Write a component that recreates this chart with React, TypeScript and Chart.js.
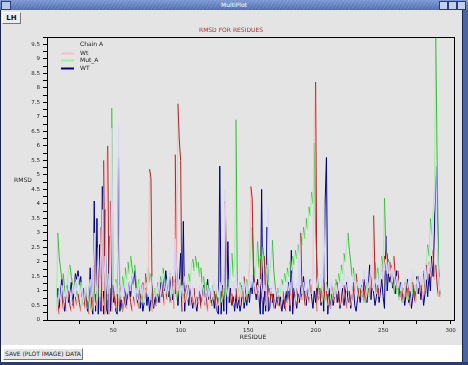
import React, { useEffect, useRef } from "react";
import { Chart, registerables } from "chart.js";

Chart.register(...registerables);

const FIRST_RESIDUE = 8;

const SERIES_NAMES = ["Chain A", "Wt", "Mut_A", "WT"];

const CHAIN_A = [
  0.8,0.5,1.0,0.7,1.2,0.9,0.6,1.1,0.8,1.4,1.0,0.7,1.2,0.9,1.3,
  1.0,1.5,1.1,0.8,1.3,0.6,0.9,1.2,0.7,1.0,1.4,0.8,1.1,3.0,0.9,
  1.2,2.5,0.8,1.5,3.8,1.0,2.2,1.3,0.9,1.6,1.1,6.6,1.4,1.0,1.3,
  0.9,6.7,1.1,0.7,1.2,0.8,1.0,1.4,0.9,1.3,1.0,1.6,1.2,0.8,1.1,
  0.7,1.0,1.4,0.9,1.2,0.6,1.0,1.3,0.8,1.1,0.7,1.5,1.0,0.8,1.2,
  0.9,1.3,0.8,1.1,1.6,1.2,0.9,1.4,1.0,1.7,1.3,0.9,1.2,2.8,1.5,
  1.0,1.4,0.8,1.2,0.9,1.5,1.1,0.7,1.0,1.3,0.8,1.2,0.6,0.9,1.1,
  0.8,1.2,0.9,1.3,1.0,0.6,0.9,1.2,0.8,1.1,0.7,1.0,1.4,0.9,1.2,
  0.8,1.3,1.0,1.5,1.1,4.5,1.2,0.8,1.1,1.4,0.9,1.3,1.0,1.6,1.1,
  0.8,1.2,0.9,1.3,1.0,1.4,0.9,1.2,1.6,1.1,1.5,1.0,1.3,0.9,1.2,
  1.0,1.4,1.1,0.8,1.2,1.0,1.5,3.9,1.2,0.9,1.3,1.0,0.7,1.1,0.8,
  1.0,1.3,0.9,1.2,0.8,1.1,1.4,1.0,1.3,0.9,1.6,1.2,0.9,1.3,1.0,
  3.1,1.2,0.9,1.3,1.0,1.5,1.1,0.8,1.2,1.6,1.3,1.9,1.4,1.1,1.5,
  1.2,1.6,1.0,4.0,1.3,1.2,0.9,1.3,1.0,1.4,1.1,0.8,1.2,0.9,1.3,
  1.0,1.4,1.1,1.7,1.3,1.0,1.5,1.2,0.9,1.3,1.6,1.2,0.9,1.3,1.1,
  1.4,1.0,1.3,1.7,1.2,1.5,1.1,1.4,1.8,1.3,1.0,1.4,1.2,1.6,1.1,
  1.5,1.9,1.4,1.8,2.1,1.6,2.0,1.5,1.8,1.3,1.7,1.2,1.5,1.1,1.4,
  1.0,1.3,0.9,1.2,1.5,1.1,1.4,1.0,1.3,1.7,1.2,1.0,1.4,1.1,1.6,
  1.2,1.5,1.1,1.8,1.4,2.0,1.6,2.3,2.8,3.4,4.0,5.5,3.0,1.5,1.0,
];

const WT_PINK = [
  0.3,0.7,0.2,0.5,0.9,0.4,0.8,0.3,0.6,1.0,0.5,0.3,0.7,0.4,0.8,
  0.5,0.9,0.6,0.3,0.7,1.1,0.4,0.8,0.5,0.2,0.6,1.0,0.4,2.3,0.7,
  0.5,1.8,0.4,3.2,0.3,5.5,0.2,5.4,6.0,0.2,4.1,0.3,1.2,0.7,0.4,
  0.9,0.5,1.1,0.6,0.3,0.8,0.5,0.4,0.7,1.0,0.6,0.3,0.8,0.5,1.1,
  0.7,0.4,0.9,0.6,1.3,0.8,1.6,1.0,1.4,5.2,4.9,0.3,0.7,1.0,0.5,
  0.8,1.1,0.6,1.3,0.9,0.5,1.0,0.7,1.2,0.8,0.6,1.5,0.4,5.7,1.0,
  7.45,6.2,5.5,0.3,1.3,0.6,1.0,0.7,1.2,0.5,0.9,0.6,1.1,0.4,0.8,
  0.6,1.0,0.4,0.7,1.1,0.5,0.8,0.3,0.6,0.9,0.5,0.7,1.0,0.4,0.8,
  0.5,0.9,1.3,0.7,1.0,4.1,2.0,0.8,1.2,0.6,0.9,0.5,0.7,1.1,0.6,
  0.9,0.5,1.2,0.8,1.5,1.0,0.7,1.3,2.0,4.6,4.2,1.6,0.9,1.3,0.7,
  1.0,2.1,0.6,0.9,2.2,0.5,1.4,0.8,1.1,0.6,0.9,0.4,0.7,1.0,0.5,
  0.8,0.4,0.7,1.0,0.5,0.3,0.6,0.9,0.5,1.2,0.8,0.4,0.7,1.1,0.6,
  0.9,3.0,0.7,1.2,0.5,0.8,1.0,0.6,1.3,0.9,1.6,6.9,8.2,0.3,0.8,
  1.1,0.6,0.9,1.4,0.7,1.0,0.5,0.8,0.4,0.7,1.1,0.6,0.9,1.3,0.7,
  0.5,0.9,0.6,1.2,0.8,0.4,0.7,1.0,0.5,0.8,1.3,0.9,1.6,1.2,0.8,
  1.1,0.7,1.4,1.0,0.6,0.9,1.3,0.8,1.5,1.1,3.6,1.4,0.9,1.2,0.8,
  1.5,1.9,1.4,2.2,1.7,2.3,1.6,2.0,1.3,1.8,2.2,1.5,1.1,1.7,1.2,
  0.8,1.2,0.6,1.0,1.4,0.7,1.1,0.5,0.9,1.3,0.8,0.6,1.0,1.5,0.9,
  1.2,0.7,1.6,1.0,1.9,1.3,2.0,1.5,1.8,2.4,1.4,1.9,1.2,0.8,1.5,
];

const MUT_A = [
  0.5,3.0,2.2,1.8,1.4,1.6,1.1,0.8,1.3,1.7,1.9,1.5,1.2,0.9,1.4,
  1.0,0.6,0.9,1.3,0.8,0.5,0.7,1.1,0.4,0.8,0.6,0.3,0.9,1.2,0.5,
  0.8,1.1,0.6,1.4,0.9,0.5,1.0,1.6,0.7,1.3,2.0,7.3,1.2,0.8,1.4,
  1.0,0.7,1.2,0.9,1.5,1.1,1.8,1.4,2.0,1.6,2.2,1.8,1.5,1.9,1.3,
  1.0,1.4,0.8,1.2,0.6,1.0,1.5,1.1,1.8,1.3,1.6,1.0,0.7,1.1,0.8,
  1.3,0.9,1.5,1.2,1.8,1.4,1.1,0.8,1.2,0.6,1.0,1.5,0.9,1.3,0.7,
  1.1,0.8,1.3,0.9,0.6,1.0,0.7,1.2,1.6,1.3,1.9,2.1,1.7,2.2,1.8,
  2.0,1.5,1.8,1.2,1.5,1.0,1.3,0.8,1.1,0.6,0.9,1.2,0.7,1.0,0.5,
  0.8,1.1,0.6,0.9,1.3,0.7,1.0,1.4,1.1,1.8,2.3,1.5,2.0,6.9,1.2,
  0.9,1.3,0.8,1.1,0.6,1.0,1.4,0.9,1.8,2.4,3.2,1.9,1.5,2.0,2.7,
  1.8,2.2,1.6,2.5,2.0,1.4,1.9,1.2,1.6,2.1,2.75,1.7,1.2,0.8,1.1,
  0.7,1.0,1.4,1.2,1.6,1.3,1.8,1.5,2.0,1.7,2.2,1.9,2.4,2.1,2.6,
  2.3,2.9,2.6,3.2,2.8,3.5,3.1,3.9,3.6,4.4,4.0,6.1,3.0,2.0,1.2,
  0.8,1.1,0.6,1.0,0.7,1.3,0.9,0.5,0.8,1.2,0.7,1.0,1.4,1.1,1.6,
  1.3,1.9,1.6,2.3,2.0,2.6,3.0,2.4,2.0,1.5,1.8,1.2,0.9,1.3,0.8,
  1.1,0.7,1.0,0.6,0.9,1.3,0.8,1.2,1.5,1.1,1.6,2.0,1.4,1.8,1.2,
  1.6,2.2,1.8,4.2,2.4,1.7,2.1,1.5,1.9,1.3,1.0,1.4,0.9,1.2,0.7,
  1.0,0.6,0.9,1.3,0.8,1.1,0.7,1.0,1.4,0.9,1.2,0.6,1.0,1.5,1.1,
  1.4,1.0,1.7,1.3,2.0,2.6,2.2,3.5,2.9,3.8,4.5,9.75,5.5,2.0,0.8,
];

const WT_NAVY = [
  0.6,1.1,0.4,0.9,1.5,0.7,0.3,0.8,1.2,0.6,0.9,1.3,0.5,1.0,1.6,
  1.4,1.7,1.2,1.5,0.8,1.1,0.5,0.9,0.3,0.7,1.8,0.4,0.2,4.1,0.3,
  3.5,0.2,2.6,0.3,4.6,0.2,3.8,0.4,0.2,2.9,0.3,1.2,0.6,0.9,0.3,
  0.2,5.6,0.3,0.8,0.3,0.7,1.1,0.5,0.9,1.3,0.8,1.5,1.2,1.7,1.1,
  0.6,1.0,0.4,0.8,0.3,0.6,1.1,0.5,0.9,0.3,0.7,1.2,0.4,0.8,0.5,
  0.9,0.6,1.3,0.8,1.5,1.0,1.7,1.2,0.8,1.6,1.1,0.7,1.4,0.9,1.8,
  0.5,1.3,2.3,0.3,3.4,0.3,1.2,0.9,0.5,1.1,0.7,0.4,0.9,0.6,0.3,
  0.7,1.0,0.5,0.8,1.2,0.6,0.9,1.4,0.7,1.1,0.5,0.8,0.4,1.0,0.3,
  0.2,5.3,0.2,1.2,0.3,3.4,0.2,2.7,0.6,1.1,0.5,0.8,0.3,0.9,0.4,
  0.7,0.3,0.6,1.1,0.4,0.8,0.5,1.0,0.6,1.3,0.9,1.6,1.1,0.7,1.4,
  0.8,0.2,4.5,0.2,1.0,0.3,3.2,0.3,0.4,1.1,0.6,0.9,0.4,0.7,1.0,
  0.5,0.8,0.3,0.7,0.4,1.0,0.6,1.3,0.3,2.4,0.2,1.1,0.7,0.4,0.9,
  0.6,1.2,0.8,1.5,0.9,0.5,1.1,0.7,1.4,0.8,0.4,1.0,0.6,1.3,0.7,
  1.0,0.5,1.2,0.3,4.0,5.6,0.2,1.1,0.4,0.9,0.5,0.8,1.3,0.6,1.0,
  0.4,0.7,1.1,0.5,0.9,1.3,0.6,1.0,0.4,0.8,1.2,0.5,0.3,0.7,1.0,
  0.6,1.2,0.8,1.4,1.0,0.6,1.1,1.9,0.7,1.3,0.9,0.5,0.8,1.2,0.6,
  1.0,1.4,0.8,0.4,2.9,1.0,1.6,1.3,1.8,1.1,1.5,0.9,1.7,1.2,0.8,
  1.3,0.7,1.1,0.5,0.9,1.4,0.6,1.0,0.4,0.8,1.2,0.6,1.5,0.9,1.3,
  0.7,1.1,0.5,0.9,1.4,0.8,1.6,1.0,2.2,1.5,3.1,5.3,4.2,1.8,0.9,
];

const X_TICKS = [25, 50, 75, 100, 125, 150, 175, 200, 225, 250, 275, 300];
const X_LABELED = [50, 100, 150, 200, 250, 300];
const Y_LABELS = ["0","0.5","1","1.5","2","2.5","3","3.5","4","4.5","5","5.5","6","6.5","7","7.5","8","8.5","9","9.5"];
const Y_MINOR_STEP = 0.25;
const Y_MAX = 9.75;
const X_MIN = 1;
const X_MAX = 302.5;

const COLORS = {
  lavender: "#d6d6fa",
  pink: "#ffbcbc",
  darkRed: "#a82424",
  lightGreen: "#9cf29c",
  green: "#3cb83c",
  navy: "#00007e",
};

function toPoints(values: number[]) {
  return values.map((v, i) => ({ x: FIRST_RESIDUE + i, y: v }));
}

const FONT = "DejaVu Sans";

const overlayPlugin = {
  id: "overlay",
  afterDatasetsDraw(chart: any) {
    const { ctx, chartArea } = chart;
    ctx.save();
    ctx.strokeStyle = "#000";
    ctx.lineWidth = 1;
    ctx.strokeRect(
      Math.round(chartArea.left) + 0.5,
      Math.round(chartArea.top) + 0.5,
      Math.round(chartArea.right - chartArea.left),
      Math.round(chartArea.bottom - chartArea.top)
    );
    ctx.restore();
  },
  afterDraw(chart: any) {
    const { ctx } = chart;
    ctx.save();
    ctx.font = `6px '${FONT}'`;
    ctx.fillStyle = "#b03030";
    ctx.textAlign = "center";
    ctx.textBaseline = "middle";
    ctx.fillText("RMSD FOR RESIDUES", 231, 6);
    ctx.fillStyle = "#222";
    ctx.fillText("RMSD", 23, 156);
    ctx.fillText("RESIDUE", 253, 313);
    const x0 = 61;
    const rows = [20.5, 29.5, 36.5, 44.5];
    const colors = [COLORS.lavender, COLORS.pink, COLORS.lightGreen, COLORS.navy];
    ctx.textAlign = "left";
    for (let i = 0; i < SERIES_NAMES.length; i++) {
      const y = rows[i];
      if (i > 0) {
        ctx.strokeStyle = colors[i];
        ctx.lineWidth = 2;
        ctx.beginPath();
        ctx.moveTo(x0, y);
        ctx.lineTo(x0 + 13, y);
        ctx.stroke();
      }
      ctx.fillStyle = "#222";
      ctx.fillText(SERIES_NAMES[i], x0 + 19, y);
    }
    ctx.restore();
  },
};

function ChartCanvas() {
  const ref = useRef<HTMLCanvasElement | null>(null);
  useEffect(() => {
    if (!ref.current) return;
    const twoTone = (up: string, down: string) => (c: any) =>
      c.p1.parsed.y < c.p0.parsed.y ? down : up;
    const chart = new Chart(ref.current, {
      type: "line",
      data: {
        datasets: [
          {
            label: SERIES_NAMES[0],
            data: toPoints(CHAIN_A),
            borderColor: COLORS.lavender,
            borderWidth: 1,
            pointRadius: 0,
            order: 1,
          },
          {
            label: SERIES_NAMES[1],
            data: toPoints(WT_PINK),
            borderColor: COLORS.pink,
            borderWidth: 1,
            pointRadius: 0,
            order: 2,
            segment: { borderColor: twoTone(COLORS.pink, COLORS.darkRed) },
          },
          {
            label: SERIES_NAMES[2],
            data: toPoints(MUT_A),
            borderColor: COLORS.lightGreen,
            borderWidth: 1,
            pointRadius: 0,
            order: 3,
            segment: { borderColor: twoTone(COLORS.lightGreen, COLORS.green) },
          },
          {
            label: SERIES_NAMES[3],
            data: toPoints(WT_NAVY),
            borderColor: COLORS.navy,
            borderWidth: 1,
            pointRadius: 0,
            order: 4,
          },
        ],
      } as any,
      options: {
        animation: false,
        responsive: false,
        maintainAspectRatio: false,
        layout: { padding: { top: 13, right: 8, left: 0, bottom: 0 } },
        plugins: {
          legend: { display: false },
          tooltip: { enabled: false },
          title: { display: false },
        },
        scales: {
          x: {
            type: "linear",
            min: X_MIN,
            max: X_MAX,
            afterBuildTicks: (s: any) => {
              s.ticks = X_TICKS.map((v) => ({ value: v }));
            },
            afterFit: (s: any) => {
              s.height = 24;
            },
            ticks: {
              autoSkip: false,
              maxRotation: 0,
              padding: 3,
              font: { family: FONT, size: 5.5 },
              color: "#222",
              callback: (v: any) => (X_LABELED.includes(Number(v)) ? String(v) : ""),
            },
            grid: {
              display: true,
              drawOnChartArea: false,
              drawTicks: true,
              tickLength: 4,
              color: "#000",
            },
            border: { display: false },
          },
          y: {
            type: "linear",
            min: 0,
            max: Y_MAX,
            afterBuildTicks: (s: any) => {
              const t: any[] = [];
              for (let v = 0; v <= Y_MAX + 1e-9; v += Y_MINOR_STEP) t.push({ value: Math.round(v * 100) / 100 });
              s.ticks = t;
            },
            afterFit: (s: any) => {
              s.width = 47;
            },
            ticks: {
              autoSkip: false,
              padding: 3,
              font: { family: FONT, size: 5.5 },
              color: "#222",
              callback: (v: any) => {
                const n = Number(v);
                const idx = Math.round(n * 2);
                return Math.abs(n * 2 - idx) < 1e-6 && Y_LABELS[idx] !== undefined ? Y_LABELS[idx] : "";
              },
            },
            grid: {
              display: true,
              drawOnChartArea: false,
              drawTicks: true,
              tickLength: 4,
              color: "#000",
            },
            border: { display: false },
          },
        },
      } as any,
      plugins: [overlayPlugin],
    });
    return () => chart.destroy();
  }, []);
  return (
    <canvas
      ref={ref}
      width={462}
      height={320}
      style={{ position: "absolute", left: 0, top: 24, width: 462, height: 320 }}
    />
  );
}

export default function App() {
  const tiny: React.CSSProperties = { fontFamily: FONT, fontSize: 7, lineHeight: "10px" };
  return (
    <div
      style={{
        position: "fixed",
        left: 0,
        top: 0,
        width: 468,
        height: 365,
        background: "#e4e4e4",
        overflow: "hidden",
      }}
    >
      <div
        style={{
          position: "absolute",
          left: 0,
          top: 0,
          width: 468,
          height: 10,
          background:
            "repeating-linear-gradient(120deg, rgba(255,255,255,0.10) 0px, rgba(255,255,255,0.10) 1px, rgba(0,0,0,0) 1px, rgba(0,0,0,0) 3px), linear-gradient(#7c98d4, #4e6cae)",
        }}
      >
        <div
          style={{
            position: "absolute",
            left: 1,
            top: 1,
            width: 8,
            height: 7,
            background: "#b8c8e8",
            border: "1px solid #2c3e70",
          }}
        />
        <div
          style={{
            ...tiny,
            position: "absolute",
            left: 0,
            width: 468,
            top: 0,
            textAlign: "center",
            color: "#fff",
            fontSize: 6,
          }}
        >
          MultiPlot
        </div>
        {[439, 448, 457].map((x) => (
          <div
            key={x}
            style={{
              position: "absolute",
              left: x,
              top: 1,
              width: 7,
              height: 7,
              background: "#c4d0ea",
              border: "1px solid #2c3e70",
            }}
          />
        ))}
      </div>
      <div style={{ position: "absolute", left: 0, top: 10, width: 1, height: 355, background: "#1a2448" }} />
      <div style={{ position: "absolute", left: 463, top: 10, width: 5, height: 355, background: "#4a64a4" }} />
      <div style={{ position: "absolute", left: 462, top: 10, width: 1, height: 355, background: "#1a2448" }} />
      <div
        style={{
          ...tiny,
          position: "absolute",
          left: 2,
          top: 12,
          width: 17,
          height: 10,
          background: "#ececec",
          borderTop: "1px solid #fff",
          borderLeft: "1px solid #fff",
          borderRight: "1px solid #777",
          borderBottom: "1px solid #777",
          textAlign: "center",
          color: "#111",
          fontWeight: "bold",
        }}
      >
        LH
      </div>
      <ChartCanvas />
      <div style={{ position: "absolute", left: 1, top: 345, width: 461, height: 17, background: "#ffffff" }} />
      <div
        style={{
          ...tiny,
          position: "absolute",
          left: 3,
          top: 348,
          width: 78,
          height: 10,
          background: "#e6e6e6",
          borderTop: "1px solid #fff",
          borderLeft: "1px solid #fff",
          borderRight: "1px solid #777",
          borderBottom: "1px solid #777",
          textAlign: "center",
          color: "#222",
          fontSize: 6,
        }}
      >
        SAVE (PLOT IMAGE) DATA
      </div>
      <div style={{ position: "absolute", left: 0, top: 362, width: 468, height: 3, background: "#2a3c70" }} />
    </div>
  );
}
